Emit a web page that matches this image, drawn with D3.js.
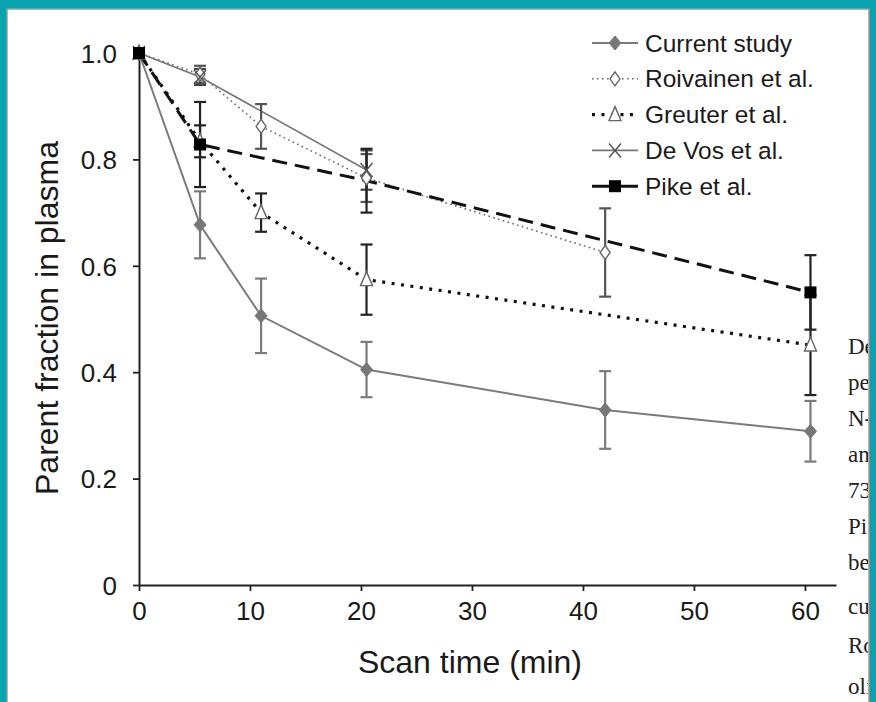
<!DOCTYPE html>
<html>
<head>
<meta charset="utf-8">
<script src="https://cdn.jsdelivr.net/npm/d3@7"></script>
<style>
  html, body { margin: 0; padding: 0; background: #08a3ae; }
  svg { display: block; }
  text { font-family: "Liberation Sans", Arial, sans-serif; }
</style>
</head>
<body>
<svg id="chart" width="876" height="702"></svg>
<script>
// Scan times (min) and parent fraction in plasma for each study
const currentX   = [0, 5.5, 11, 20.5, 42, 60.5];
const currentY   = [1.0, 0.677, 0.506, 0.405, 0.329, 0.289];
const currentErr = [0, 0.063, 0.070, 0.052, 0.073, 0.057];

const roivX   = [0, 5.5, 11, 20.5, 42];
const roivY   = [1.0, 0.960, 0.862, 0.765, 0.625];
const roivErr = [0, 0.016, 0.042, 0.045, 0.083];

const greuterX   = [0, 5.5, 11, 20.5, 60.5];
const greuterY   = [1.0, 0.834, 0.700, 0.574, 0.451];
const greuterErr = [0, 0.030, 0.036, 0.066, 0.094];

const devosX   = [0, 5.5, 20.5];
const devosY   = [1.0, 0.955, 0.780];
const devosErr = [0, 0.015, 0.037];

const pikeX   = [0, 5.5, 20.5, 60.5];
const pikeY   = [1.0, 0.828, 0.760, 0.550];
const pikeErr = [0, 0.080, 0.060, 0.070];
const pikeMarkedAt = [0, 5.5, 60.5];

const xTicks = [0, 10, 20, 30, 40, 50, 60];
const yTicks = [0, 0.2, 0.4, 0.6, 0.8, 1.0];
const yTickLabels = ["0", "0.2", "0.4", "0.6", "0.8", "1.0"];

const legendLabels = ["Current study", "Roivainen et al.", "Greuter et al.", "De Vos et al.", "Pike et al."];
const sideText = ["De", "pe", "N-", "an", "73", "Pi", "be", "cu", "Ro", "oli"];

const svg = d3.select("#chart");

// page frame
svg.append("rect").attr("x", 7).attr("y", 9).attr("width", 862).attr("height", 700)
  .attr("fill", "#fff").attr("stroke", "#9a9a9a").attr("stroke-width", 1.5);

const x = d3.scaleLinear().domain([0, 62.8]).range([139, 836]);
const y = d3.scaleLinear().domain([0, 1]).range([585, 53]);

// axes
const gx = svg.append("g").attr("transform", "translate(0,585)")
  .call(d3.axisBottom(x).tickValues(xTicks).tickFormat(d3.format("d")).tickSize(6).tickSizeOuter(0).tickPadding(8));
const gy = svg.append("g").attr("transform", "translate(139,0)")
  .call(d3.axisLeft(y).tickValues(yTicks).tickFormat((d, i) => yTickLabels[i]).tickSize(6).tickSizeOuter(0).tickPadding(16));
[gx, gy].forEach(g => {
  g.select(".domain").attr("stroke", "#222").attr("stroke-width", 2);
  g.selectAll(".tick line").attr("stroke", "#222").attr("stroke-width", 1.8);
  g.selectAll(".tick text").attr("fill", "#1a1a1a").style("font-size", "26px")
    .style("font-family", "'Liberation Sans', Arial, sans-serif");
});
gy.selectAll(".tick text").attr("dy", "0.36em");
gx.selectAll(".tick text").attr("dy", "0.8em");

// axis titles
svg.append("text").attr("x", 470).attr("y", 673).attr("text-anchor", "middle")
  .style("font-size", "32px").attr("fill", "#1a1a1a").text("Scan time (min)");
svg.append("text").attr("transform", "translate(58,318) rotate(-90)").attr("text-anchor", "middle")
  .style("font-size", "32px").attr("fill", "#1a1a1a").text("Parent fraction in plasma");

const toPts = (xs, ys, es) => xs.map((v, i) => ({x: v, y: ys[i], e: es[i]}));
const series = [
  {pts: toPts(currentX, currentY, currentErr), stroke: "#7b7b7b", width: 2, dash: null, errColor: "#7b7b7b", marker: "diamondFilled"},
  {pts: toPts(roivX, roivY, roivErr), stroke: "#6a6a6a", width: 1.6, dash: "1.6,3.4", errColor: "#555", marker: "diamondOpen"},
  {pts: toPts(greuterX, greuterY, greuterErr), stroke: "#111", width: 3.2, dash: "3,6.5", errColor: "#222", marker: "triangle"},
  {pts: toPts(devosX, devosY, devosErr), stroke: "#777", width: 1.6, dash: null, errColor: "#444", marker: "cross"},
  {pts: toPts(pikeX, pikeY, pikeErr), stroke: "#111", width: 3, dash: "15,8", errColor: "#222", marker: "square"}
];

const line = d3.line().x(d => x(d.x)).y(d => y(d.y));

// lines
series.forEach(s => {
  svg.append("path").datum(s.pts).attr("d", line).attr("fill", "none")
    .attr("stroke", s.stroke).attr("stroke-width", s.width)
    .attr("stroke-dasharray", s.dash);
});

// error bars
series.forEach(s => {
  const g = svg.append("g").attr("stroke", s.errColor).attr("stroke-width", 2.2);
  s.pts.filter(d => d.e > 0).forEach(d => {
    const cx = x(d.x), y0 = y(d.y - d.e), y1 = y(d.y + d.e);
    g.append("line").attr("x1", cx).attr("x2", cx).attr("y1", y0).attr("y2", y1);
    g.append("line").attr("x1", cx - 6).attr("x2", cx + 6).attr("y1", y0).attr("y2", y0);
    g.append("line").attr("x1", cx - 6).attr("x2", cx + 6).attr("y1", y1).attr("y2", y1);
  });
});

function drawMarker(g, type, cx, cy) {
  if (type === "diamondFilled") {
    g.append("path").attr("d", `M${cx},${cy-7}L${cx+6},${cy}L${cx},${cy+7}L${cx-6},${cy}Z`)
      .attr("fill", "#777").attr("stroke", "#777").attr("stroke-width", 1);
  } else if (type === "diamondOpen") {
    g.append("path").attr("d", `M${cx},${cy-7}L${cx+5},${cy}L${cx},${cy+7}L${cx-5},${cy}Z`)
      .attr("fill", "#fff").attr("stroke", "#666").attr("stroke-width", 1.4);
  } else if (type === "triangle") {
    g.append("path").attr("d", `M${cx},${cy-8}L${cx+6},${cy+6}L${cx-6},${cy+6}Z`)
      .attr("fill", "#fff").attr("stroke", "#666").attr("stroke-width", 1.4);
  } else if (type === "cross") {
    g.append("path").attr("d", `M${cx-6},${cy-7}L${cx+6},${cy+7}M${cx+6},${cy-7}L${cx-6},${cy+7}`)
      .attr("fill", "none").attr("stroke", "#555").attr("stroke-width", 1.5);
  } else if (type === "square") {
    g.append("rect").attr("x", cx - 6).attr("y", cy - 6).attr("width", 12).attr("height", 12)
      .attr("fill", "#000");
  }
}

// markers
series.forEach(s => {
  const g = svg.append("g");
  s.pts.forEach(d => {
    if (s.marker === "square" && !pikeMarkedAt.includes(d.x)) return;
    drawMarker(g, s.marker, x(d.x), y(d.y));
  });
});

// legend
const lg = svg.append("g");
legendLabels.forEach((lab, i) => {
  const s = series[i];
  const ly = 43 + i * 35.8;
  lg.append("line").attr("x1", 592).attr("x2", 638).attr("y1", ly).attr("y2", ly)
    .attr("stroke", s.stroke).attr("stroke-width", s.width)
    .attr("stroke-dasharray", s.marker === "square" ? null : (s.dash ? s.dash : null));
  drawMarker(lg, s.marker, 615, ly);
  lg.append("text").attr("x", 645).attr("y", ly).attr("dy", "0.35em")
    .style("font-size", "24.5px").attr("fill", "#1a1a1a").text(lab);
});

// adjoining caption text, cut by the page edge
const clip = svg.append("clipPath").attr("id", "pageClip");
clip.append("rect").attr("x", 7).attr("y", 9).attr("width", 861).attr("height", 700);
const side = svg.append("g").attr("clip-path", "url(#pageClip)");
const sideY = [346, 382, 418, 454, 490, 526, 562, 606, 645, 686];
sideText.forEach((t, i) => {
  side.append("text").attr("x", 848).attr("y", sideY[i]).attr("dy", "0.35em")
    .style("font-family", "'Liberation Serif', 'Times New Roman', serif")
    .style("font-size", "23px").attr("fill", "#222").text(t);
});
</script>
</body>
</html>
